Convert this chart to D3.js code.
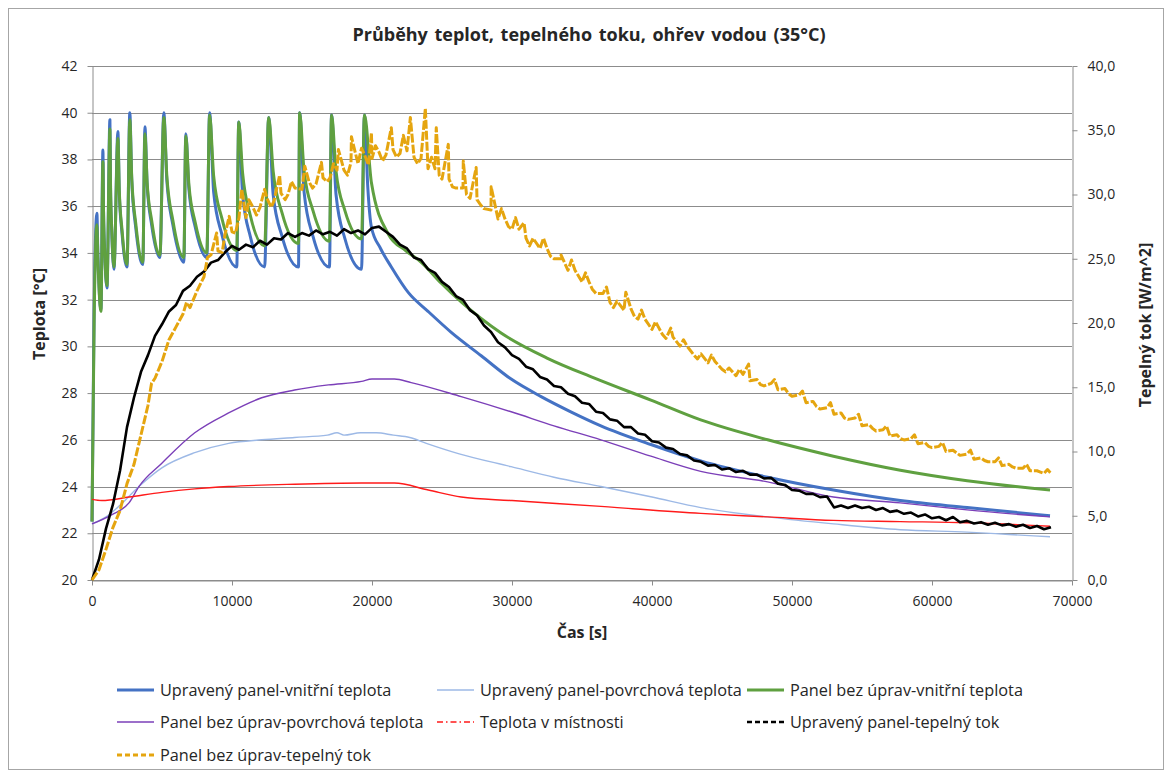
<!DOCTYPE html>
<html>
<head>
<meta charset="utf-8">
<script src="https://cdn.jsdelivr.net/npm/d3@7"></script>
<style>
  body { margin: 0; background: #fff; }
  text { font-family: "Open Sans", Lato, sans-serif; fill: #262626; }
</style>
</head>
<body>
<svg id="chart" width="1172" height="775"></svg>
<script>
// ---- axis ticks ----
const timeTicks = [0, 10000, 20000, 30000, 40000, 50000, 60000, 70000];
const tempTicks = [20, 22, 24, 26, 28, 30, 32, 34, 36, 38, 40, 42];
const fluxTicks = [0, 5, 10, 15, 20, 25, 30, 35, 40];
const fluxTickLabels = ["0,0", "5,0", "10,0", "15,0", "20,0", "25,0", "30,0", "35,0", "40,0"];

// ---- temperatures [°C], pairs of [time s, value] ----
const upravenyVnitrni = [
  [0,22.5],[150,31.5],[350,35.7],[420,34.0],[640,31.6],
  [780,38.4],[824,35.75],[910,33.98],[1070,32.5],
  [1280,39.7],[1324,36.8],[1410,34.9],[1570,33.3],
  [1850,39.2],[1948,36.6],[2143,34.85],[2500,33.4],
  [2700,40.0],[2840,37.1],[3120,35.1],[3630,33.5],
  [3780,39.4],[3940,36.9],[4260,35.2],[4850,33.8],
  [5130,40.0],[5345,37.1],[5775,35.2],[6560,33.6],
  [6700,39.1],[6925,36.7],[7375,35.1],[8200,33.8],
  [8400,40.0],[8690,36.6],[9270,34.8],[10340,33.4],
  [10480,39.6],[10760,36.5],[11310,34.7],[12330,33.4],
  [12620,39.8],[12940,36.5],[13580,34.7],[14750,33.4],
  [14830,40.0],[15150,36.6],[15790,34.7],[16960,33.4],
  [17110,39.9],[17430,36.5],[18070,34.6],[19250,33.3],
  [19460,39.9],[19700,36.8],[19960,35.1],[20600,34.2],[21380,33.4],[22600,32.3],
  [24000,31.5],[25660,30.6],[27800,29.6],[29940,28.6],[32080,27.85],[34200,27.2],
  [36350,26.6],[39920,25.8],[43480,25.1],[48260,24.4],[52960,23.85],[57740,23.4],
  [62510,23.1],[68430,22.75]
];
const upravenyPovrch = [
  [0,22.4],[1000,22.7],[2000,23.2],[3350,24.0],[4990,24.8],[7340,25.45],[9760,25.85],
  [12120,26.0],[14470,26.1],[16820,26.2],[17500,26.3],[18000,26.2],[19180,26.3],
  [20300,26.3],[21530,26.2],[22700,26.1],[23880,25.85],[26230,25.4],[29940,24.85],
  [33000,24.4],[36350,24.0],[40000,23.55],[43480,23.1],[48260,22.7],[52960,22.4],
  [57740,22.15],[62510,22.05],[65500,21.95],[68430,21.85]
];
const bezUpravVnitrni = [
  [0,22.5],[150,31.0],[350,35.2],[420,33.8],[640,31.5],
  [780,37.9],[824,35.8],[910,34.0],[1070,32.6],
  [1280,39.3],[1324,36.9],[1410,35.0],[1570,33.4],
  [1850,38.9],[1948,36.7],[2143,35.0],[2500,33.5],
  [2700,39.7],[2840,37.2],[3120,35.3],[3630,33.6],
  [3780,39.1],[3940,37.0],[4260,35.4],[4850,33.9],
  [5130,39.8],[5345,37.3],[5775,35.4],[6560,33.8],
  [6700,39.0],[6925,36.9],[7375,35.3],[8200,34.0],
  [8400,39.9],[8690,37.3],[9270,35.5],[10340,34.1],
  [10480,39.6],[10760,37.4],[11310,35.6],[12330,34.3],
  [12620,39.8],[12940,37.5],[13580,35.7],[14750,34.4],
  [14830,40.0],[15150,37.5],[15790,35.8],[16960,34.5],
  [17110,39.9],[17430,37.5],[18070,35.8],[19250,34.6],
  [19460,39.9],[19960,37.0],[21170,34.8],[22400,34.1],[23520,33.6],[24950,32.7],
  [26370,31.9],[29220,30.57],[32500,29.5],[35850,28.65],[39920,27.7],[43480,26.85],
  [48260,26.0],[52960,25.3],[57740,24.7],[62510,24.25],[68430,23.85]
];
const bezUpravPovrch = [
  [0,22.4],[1430,22.8],[2640,23.3],[3350,24.0],[4990,25.0],[7340,26.3],[9760,27.15],
  [12120,27.8],[14470,28.13],[16890,28.35],[19250,28.5],[20000,28.6],[21600,28.6],
  [22800,28.45],[26370,27.85],[29940,27.2],[33000,26.6],[36350,26.0],[39920,25.3],
  [43480,24.65],[48260,24.2],[52960,23.55],[57740,23.3],[62510,23.0],[68430,22.7]
];
const teplotaMistnost = [
  [0,23.45],[700,23.4],[2640,23.55],[4990,23.75],[7340,23.9],[9760,24.0],[14470,24.1],
  [19250,24.15],[21600,24.15],[24020,23.85],[26370,23.55],[30000,23.4],[36350,23.15],
  [43480,22.85],[48260,22.7],[52960,22.55],[57740,22.5],[62510,22.45],[68430,22.3]
];

// ---- heat flux [W/m^2], logged every 500 s ----
const fluxStep = 500;
const upravenyTok = [
  0.0,1.6,4.0,5.9,8.5,11.9,14.2,16.2,17.5,19.0,19.9,20.9,21.4,22.5,22.9,23.6,24.0,24.7,24.9,25.5,
  26.0,25.7,26.1,25.9,26.4,26.1,26.6,26.5,27.0,26.7,27.0,26.8,27.2,26.9,27.1,26.8,27.3,27.0,27.2,26.9,
  27.4,27.5,27.1,26.7,26.1,25.8,25.1,24.9,24.2,23.9,23.2,22.8,22.1,21.8,21.0,20.6,19.8,19.3,18.5,18.1,
  17.5,17.2,16.6,16.4,15.8,15.6,15.1,15.0,14.5,14.3,13.8,13.7,13.1,13.0,12.5,12.4,11.9,11.9,11.4,11.3,
  10.8,10.7,10.3,10.2,9.8,9.7,9.3,9.2,8.9,8.95,8.6,8.7,8.4,8.5,8.2,8.2,7.9,7.95,7.5,7.4,
  7.0,6.95,6.7,6.7,6.45,6.5,5.65,5.8,5.6,5.8,5.6,5.7,5.45,5.6,5.3,5.4,5.15,5.25,4.95,5.1,
  4.8,4.9,4.65,4.9,4.5,4.6,4.4,4.5,4.3,4.45,4.25,4.35,4.15,4.3,4.05,4.2,3.95,4.1
];
const bezUpravTok = [
  0.0,0.8,2.4,4.1,5.4,7.5,9.0,11.3,13.6,15.7,17.0,18.7,19.7,20.7,21.2,22.5,23.6,25.3,25.6,26.9,
  27.1,28.2,28.2,29.0,29.0,29.7,29.5,30.1,30.0,30.5,30.4,31.0,30.8,31.3,31.3,31.9,31.9,32.5,32.4,33.0,
  32.8,33.3,33.1,33.5,33.2,33.4,32.9,32.8,32.0,32.0,31.2,31.2,30.5,30.5,29.7,29.6,28.9,28.8,28.1,28.1,
  27.3,27.3,26.6,26.6,25.8,25.8,25.0,25.0,24.1,24.1,23.2,23.2,22.3,22.3,21.6,21.7,21.0,21.1,20.3,20.3,
  19.5,19.6,18.8,18.9,18.2,18.2,17.5,17.6,16.9,17.0,16.4,16.5,15.9,16.0,15.5,15.6,15.1,15.3,14.8,14.9,
  14.3,14.4,13.8,13.9,13.3,13.4,12.9,13.0,12.5,12.6,12.0,12.1,11.6,11.7,11.2,11.3,10.9,11.0,10.6,10.7,
  10.3,10.4,10.0,10.1,9.7,9.8,9.4,9.5,9.2,9.2,8.9,9.0,8.7,8.7,8.5,8.5,8.3,8.3
];
// intermediate readings of the untreated panel flux (short peaks and dips), [time s, value]
const bezUpravTokExtra = [
  [4250,15.3],[6750,21.6],[8250,25.1],[8900,27.0],[9300,25.5],[9800,28.3],[10250,27.0],
  [10700,30.4],[11200,29.6],[11750,28.4],[12330,30.4],[12800,29.0],[13400,31.5],[13800,29.6],
  [14250,31.0],[15200,32.2],[15750,30.5],[16390,32.5],[16800,31.0],[17250,32.4],[17600,33.5],
  [18250,31.5],[18530,34.5],[19250,33.6],[19750,32.3],[19960,34.8],[20250,33.8],[20750,32.6],
  [21380,35.2],[21750,32.9],[22240,34.6],[22740,36.0],[23250,32.4],[23810,36.7],[24250,32.9],
  [24590,35.2],[24800,31.5],[25450,33.9],[25750,30.6],[26520,32.6],[26750,30.0],[27440,32.1],
  [27750,29.2],[28510,30.6],[29250,28.9],[29750,27.5],[30250,28.2],[30860,27.8],[31250,26.0],
  [32250,26.6],[32750,25.2],[33500,25.3],[34250,24.9],[35250,23.9],[35750,22.6],[36750,22.8],
  [37250,21.2],[38130,22.4],[38750,20.5],[39250,21.0],[40250,20.1],[40750,19.1],[41340,19.6],
  [42250,18.7],[43250,17.2],[44250,17.5],[45250,16.2],[46250,16.4],[46900,16.8],[47750,15.2],
  [48750,15.6],[49750,14.5],[50750,14.7],[51750,13.5],[52750,13.8],[53750,12.6],[54750,12.9],
  [55750,11.8],[56750,12.0],[57750,11.0],[58750,11.3],[59750,10.4],[60750,10.7],[61750,9.9],
  [62750,10.1],[63750,9.3],[64750,9.5],[65750,8.8],[66750,9.0],[67750,8.4],[68250,8.6]
];

// ---- layout ----
const svg = d3.select("#chart");
const W = 1172, H = 775;
const x = d3.scaleLinear().domain([0, 70000]).range([92, 1072]);
const yT = d3.scaleLinear().domain([20, 42]).range([580, 66]);
const yF = d3.scaleLinear().domain([0, 40]).range([580, 66]);
const gridColor = "#8c8c8c";

// outer frame
svg.append("rect").attr("x", 8.5).attr("y", 8.5).attr("width", W - 17).attr("height", H - 14)
  .attr("fill", "#fff").attr("stroke", "#a6a6a6").attr("stroke-width", 1);

// title
svg.append("text").attr("x", 589).attr("y", 41).attr("text-anchor", "middle")
  .attr("font-size", 18).attr("font-weight", "bold").attr("word-spacing", 2)
  .text("Průběhy teplot, tepelného toku, ohřev vodou (35°C)");

// horizontal gridlines
svg.append("g").selectAll("line").data(tempTicks).join("line")
  .attr("x1", x(0)).attr("x2", x(70000))
  .attr("y1", d => Math.round(yT(d)) + 0.5).attr("y2", d => Math.round(yT(d)) + 0.5)
  .attr("stroke", gridColor).attr("stroke-width", 1);

function styleAxis(g) {
  g.select(".domain").attr("stroke", gridColor);
  g.selectAll(".tick line").attr("stroke", gridColor);
  g.selectAll(".tick text").attr("font-size", 14).attr("fill", "#262626")
    .attr("font-family", "Lato, 'Open Sans', sans-serif");
}

svg.append("g").attr("transform", "translate(0,580.5)")
  .call(d3.axisBottom(x).tickValues(timeTicks).tickSize(5).tickPadding(11).tickSizeOuter(0).tickFormat(d3.format("d")))
  .call(styleAxis);
svg.append("g").attr("transform", "translate(92.5,0)")
  .call(d3.axisLeft(yT).tickValues(tempTicks).tickSize(5).tickPadding(10).tickSizeOuter(0))
  .call(styleAxis);
svg.append("g").attr("transform", "translate(1072.5,0)")
  .call(d3.axisRight(yF).tickValues(fluxTicks).tickSize(5).tickPadding(10).tickSizeOuter(0)
    .tickFormat((d, i) => fluxTickLabels[i]))
  .call(styleAxis);

// axis titles
svg.append("text").attr("transform", "translate(45,314) rotate(-90)").attr("text-anchor", "middle")
  .attr("font-size", 16).attr("font-weight", "bold").text("Teplota [°C]");
svg.append("text").attr("transform", "translate(1151,325) rotate(-90)").attr("text-anchor", "middle")
  .attr("font-size", 16).attr("font-weight", "bold").text("Tepelný tok [W/m^2]");
svg.append("text").attr("x", 582).attr("y", 638).attr("text-anchor", "middle")
  .attr("font-size", 16).attr("font-weight", "bold").text("Čas [s]");

// ---- series ----
const tokPairs = vals => vals.map((v, i) => [i * fluxStep, v]);
const bezUpravTokAll = tokPairs(bezUpravTok).concat(bezUpravTokExtra).sort((a, b) => a[0] - b[0]);

const series = [
  { name: "Upravený panel-vnitřní teplota", data: upravenyVnitrni, y: yT, color: "#4472C4", width: 3, smooth: true },
  { name: "Upravený panel-povrchová teplota", data: upravenyPovrch, y: yT, color: "#9DB9E6", width: 1.4, smooth: true },
  { name: "Panel bez úprav-vnitřní teplota", data: bezUpravVnitrni, y: yT, color: "#5FA040", width: 3, smooth: true },
  { name: "Panel bez úprav-povrchová teplota", data: bezUpravPovrch, y: yT, color: "#7B3FB8", width: 1.4, smooth: true },
  { name: "Teplota v místnosti", data: teplotaMistnost, y: yT, color: "#FF1A1A", width: 1.4, smooth: true, legendDash: "6,3,1.5,3" },
  { name: "Upravený panel-tepelný tok", data: tokPairs(upravenyTok), y: yF, color: "#000000", width: 2.6, legendDash: "5,3" },
  { name: "Panel bez úprav-tepelný tok", data: bezUpravTokAll, y: yF, color: "#E5A50F", width: 3, dash: "9,2", legendDash: "5,3" }
];

const plot = svg.append("g");
series.forEach(s => {
  const line = d3.line().x(d => x(d[0])).y(d => s.y(d[1]))
    .curve(s.smooth ? d3.curveMonotoneX : d3.curveLinear);
  plot.append("path").datum(s.data)
    .attr("fill", "none").attr("stroke", s.color).attr("stroke-width", s.width)
    .attr("stroke-linejoin", "round")
    .attr("stroke-dasharray", s.dash || null)
    .attr("d", line);
});

// ---- legend: three columns ----
const legendCols = [117, 437, 747];
const legendRows = [690, 722, 755];
const legend = svg.append("g");
series.forEach((s, i) => {
  const cx = legendCols[i % 3], cy = legendRows[Math.floor(i / 3)];
  legend.append("line").attr("x1", cx).attr("x2", cx + 37).attr("y1", cy).attr("y2", cy)
    .attr("stroke", s.color).attr("stroke-width", s.width)
    .attr("stroke-dasharray", s.legendDash || null);
  legend.append("text").attr("x", cx + 43).attr("y", cy).attr("dy", "0.35em")
    .attr("font-size", 16.3).text(s.name);
});
</script>
</body>
</html>
